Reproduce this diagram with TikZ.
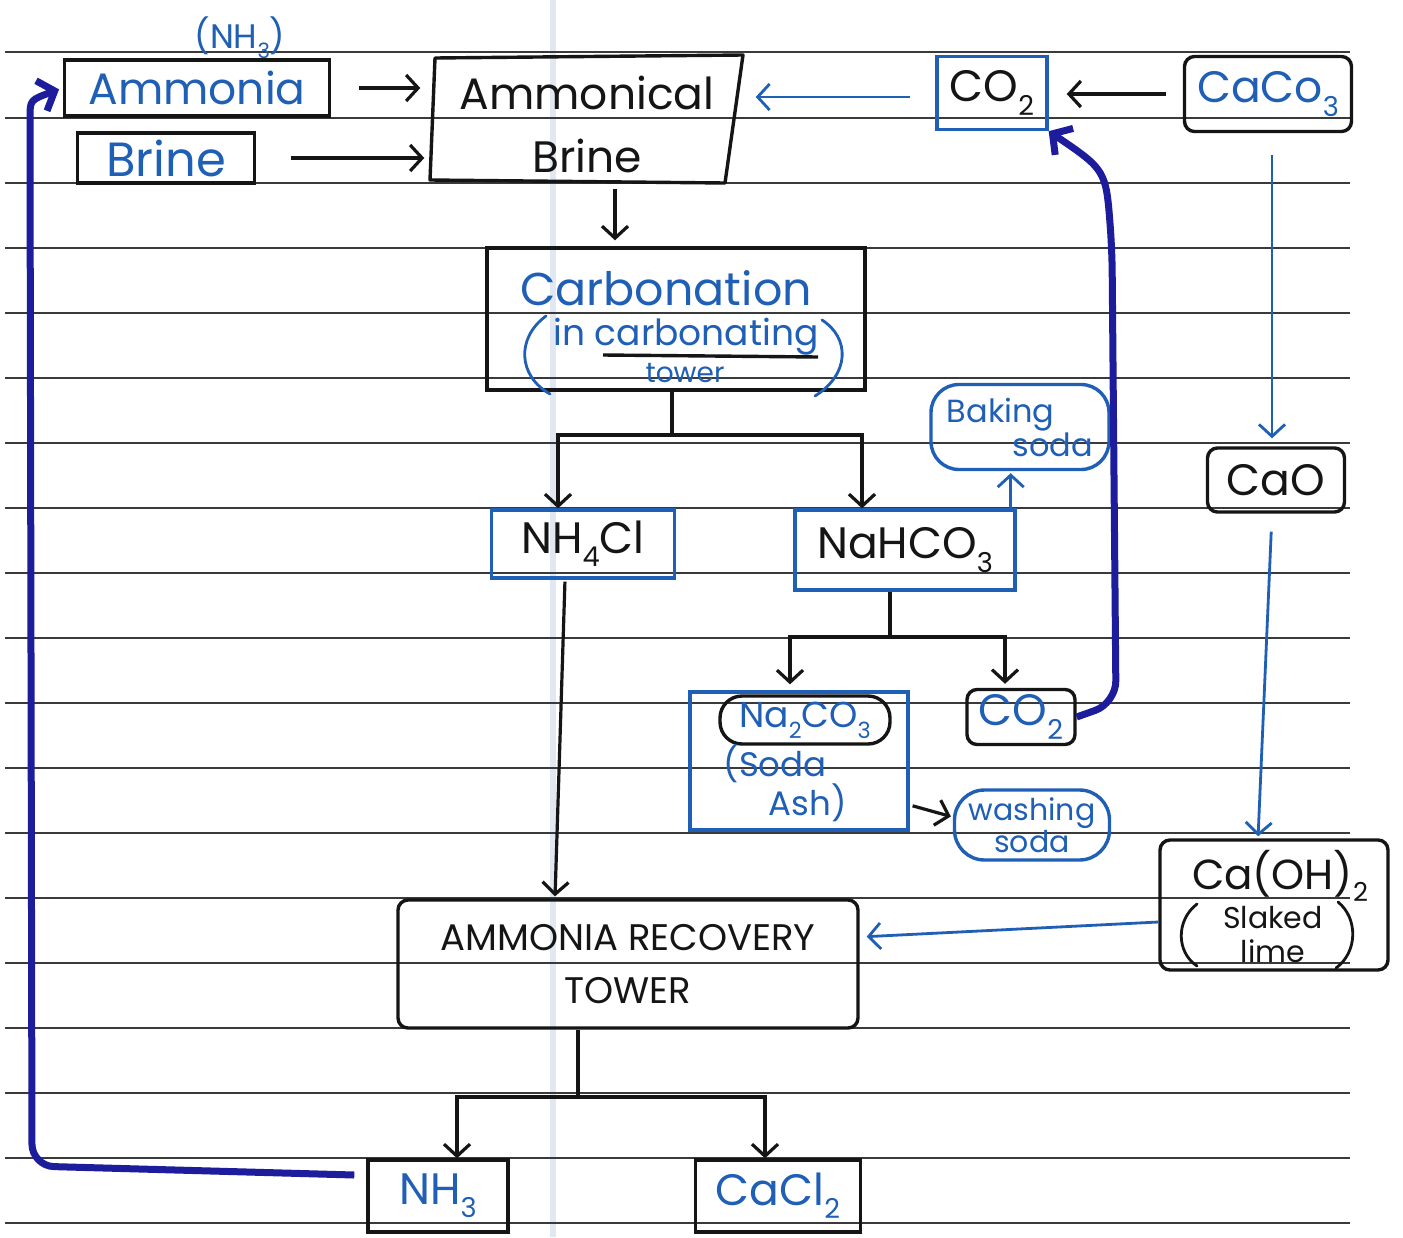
\documentclass[tikz,border=0pt]{standalone}
\usepackage{fontspec}
\usepackage{graphicx}
\setmainfont{Poppins}
\usetikzlibrary{arrows.meta,calc}
\definecolor{inkblue}{HTML}{1F5FB5}
\definecolor{inknavy}{HTML}{1C1C9C}
\definecolor{inkblack}{HTML}{151515}
\definecolor{rulegray}{HTML}{3A3A3A}
\definecolor{margin}{HTML}{E2E8F1}
\newcommand\sbs[1]{\raisebox{-0.3em}{\scalebox{0.62}{#1}}}
\begin{document}
\begin{tikzpicture}[x=1pt,y=-1pt,
  rule/.style={draw=rulegray, line width=1.8pt},
  kbox/.style={draw=inkblack, line width=3.4pt, inner sep=0pt, align=center},
  ubox/.style={draw=inkblue, line width=3.4pt, inner sep=0pt, align=center},
  kround/.style={kbox, rounded corners=10pt},
  uround/.style={ubox, rounded corners=10pt},
  ut/.style={text=inkblue},
  kt/.style={text=inkblack},
  fA/.style={font=\fontsize{44}{52}\selectfont},
  wire/.style={draw=inkblack, line width=3.2pt},
  arr/.style={wire, -{Straight Barb[length=12pt,width=26pt]}},
  barr/.style={draw=inkblue, line width=2.8pt, -{Straight Barb[length=12pt,width=26pt]}},
  narr/.style={draw=inknavy, line width=7pt, rounded corners=22pt, -{Straight Barb[length=14pt,width=32pt]}},
  paren/.style={line width=2.8pt, line cap=round}]

% paper
\useasboundingbox (0,0) rectangle (1403,1237);
\fill[white] (0,0) rectangle (1403,1237);
\draw[margin, line width=6pt] (553,0) -- (553,1237);
\foreach \y in {52,118,183,248,313,378,443,508,573,638,703,768,833,898,963,1028,1093,1158,1223}
  \draw[rule] (5,\y) -- (1350,\y);

% top row
\node[kbox, ut, fA, minimum width=265pt, minimum height=56pt] (amm) at (197,88) {Ammonia};
\node[kbox, ut, font=\fontsize{48}{52}\selectfont, minimum width=177pt, minimum height=50pt] (brine) at (166,158) {Brine};
\node[ut, font=\fontsize{34}{40}\selectfont] (nh3note) at (240,38) {(NH\sbs{3})};

\node[kt, font=\fontsize{44}{63}\selectfont, align=center, inner sep=0pt,
      minimum width=313pt, minimum height=125pt] (ab) at (587,124) {Ammonical\\Brine};
\draw[inkblack, line width=3.4pt, line join=round] (435,58) -- (743,55) -- (725,183) -- (430,180) -- cycle;

\node[ubox, kt, fA, minimum width=110pt, minimum height=73pt] (co2t) at (992,93) {CO\sbs{2}};
\node[kround, ut, fA, minimum width=167pt, minimum height=75pt] (caco3) at (1268,94) {CaCo\sbs{3}};

% carbonation tower
\node[kbox, minimum width=378pt, minimum height=142pt] (carb) at (676,319) {};
\node[ut, font=\fontsize{46}{50}\selectfont] (carbT) at (666,288) {Carbonation};
\node[ut, font=\fontsize{36}{40}\selectfont] (carbIn) at (686,337) {in carbonating};
\node[ut, font=\fontsize{28}{32}\selectfont] (carbTw) at (685,373) {tower};
\draw[inkblack, line width=3.4pt] (603,355) -- (818,357);
\draw[inkblue, paren] (546,316) .. controls (516,338) and (518,376) .. (550,394);
\draw[inkblue, paren] (822,320) .. controls (850,338) and (850,374) .. (815,396);

% products of carbonation
\node[ubox, kt, fA, minimum width=183pt, minimum height=68pt] (nh4cl) at (583,544) {NH\sbs{4}Cl};
\node[ubox, kt, fA, minimum width=220pt, minimum height=80pt] (nahco3) at (905,550) {NaHCO\sbs{3}};
\node[uround, rounded corners=28pt, ut, font=\fontsize{32}{34}\selectfont, align=left,
      minimum width=178pt, minimum height=85pt] (baking) at (1020,427) {Baking\\\hspace*{66pt}soda};
\node[kround, kt, fA, minimum width=137pt, minimum height=64pt] (cao) at (1276,480) {CaO};

% decomposition of NaHCO3
\node[ubox, minimum width=218pt, minimum height=138pt] (sodabox) at (799,761) {};
\node[kround, rounded corners=22pt, ut, font=\fontsize{36}{40}\selectfont,
      minimum width=170pt, minimum height=48pt] (na2) at (805,720) {Na\sbs{2}CO\sbs{3}};
\node[ut, font=\fontsize{34}{36}\selectfont, align=left] (sodaash) at (785,783) {(Soda\\\hspace*{45pt}Ash)};
\node[kround, ut, fA, minimum width=108pt, minimum height=55pt] (co2b) at (1021,717) {CO\sbs{2}};
\node[uround, rounded corners=30pt, ut, font=\fontsize{30}{32}\selectfont,
      minimum width=155pt, minimum height=70pt] (washing) at (1032,825) {washing\\soda};

% slaked lime
\node[kround, minimum width=228pt, minimum height=130pt] (caoh) at (1274,905) {};
\node[kt, font=\fontsize{42}{44}\selectfont] (caohT) at (1280,876) {Ca(OH)\sbs{2}};
\node[kt, font=\fontsize{30}{34}\selectfont, align=center] (slaked) at (1273,935) {Slaked\\lime};
\draw[inkblack, paren] (1197,904) .. controls (1176,920) and (1176,952) .. (1197,966);
\draw[inkblack, paren] (1338,902) .. controls (1358,918) and (1358,952) .. (1336,968);

% ammonia recovery
\node[kround, kt, font=\fontsize{37}{53}\selectfont, align=center,
      minimum width=460pt, minimum height=128pt] (art) at (628,964) {AMMONIA RECOVERY\\TOWER};
\node[kbox, ut, fA, minimum width=140pt, minimum height=72pt] (nh3) at (438,1196) {NH\sbs{3}};
\node[kbox, ut, fA, minimum width=165pt, minimum height=72pt] (cacl2) at (778,1196) {CaCl\sbs{2}};

% feeds into ammonical brine
\draw[arr, shorten <=28pt, shorten >=10pt] (amm.east) -- (amm.east -| ab.west);
\draw[arr, shorten <=35pt, shorten >=6pt] (brine.east) -- (brine.east -| ab.west);
\draw[barr, shorten <=25pt, shorten >=12pt] ([yshift=-4pt]co2t.west) -- ([yshift=-4pt]co2t.west -| ab.east);
\draw[arr, shorten <=17pt, shorten >=18pt] (caco3.west) -- (caco3.west -| co2t.east);
\draw[arr, shorten <=2pt, shorten >=6pt] ([xshift=28pt]ab.south) -- ([xshift=28pt]ab.south |- carb.north);

% branches
\coordinate (cj) at (672,435);
\draw[wire] (carb.south -| cj) -- (cj);
\draw[arr] (cj) -| ([xshift=-25pt]nh4cl.north);
\draw[arr] (cj) -| ([xshift=-43pt]nahco3.north);
\draw[barr, shorten >=2pt] ([xshift=-6pt]nahco3.north east) -- ([xshift=-6pt]nahco3.north east |- baking.south);

\coordinate (nj) at (890,637);
\draw[wire] (nahco3.south -| nj) -- (nj);
\draw[arr, shorten >=6pt] (nj) -| ([xshift=-9pt]sodabox.north);
\draw[arr, shorten >=4pt] (nj) -| ([xshift=-16pt]co2b.north);
\draw[arr, shorten <=3pt, shorten >=2pt] ([yshift=-44pt]sodabox.east) -- ([yshift=8pt]washing.west);

% lime cycle
\draw[barr, shorten <=22pt, shorten >=8pt] ([xshift=4pt]caco3.south) -- ([xshift=4pt]caco3.south |- cao.north);
\draw[barr, shorten <=18pt, shorten >=2pt] ([xshift=-4pt]cao.south) -- ([xshift=-16pt]caoh.north);
\draw[barr, shorten >=7pt] ([yshift=-17pt]caoh.west) -- ([yshift=27pt]art.east);

% to recovery tower
\draw[arr, shorten <=2pt, shorten >=2pt] ([xshift=-18pt]nh4cl.south) -- ([xshift=-73pt]art.north);
\coordinate (aj) at (578,1097);
\draw[wire] (art.south -| aj) -- (aj);
\draw[arr] (aj) -| ([xshift=19pt]nh3.north);
\draw[arr] (aj) -| ([xshift=-13pt]cacl2.north);

% recycled streams
\draw[narr] (co2b.east) -- (1116,703) -- (1112,250) .. controls (1106,170) .. (co2t.south east);
\draw[narr, shorten >=4pt] ([shift={(-12pt,21pt)}]nh3.west) -- (32,1166) -- (30,140) .. controls (30,100) .. (amm.west);
\end{tikzpicture}
\end{document}
